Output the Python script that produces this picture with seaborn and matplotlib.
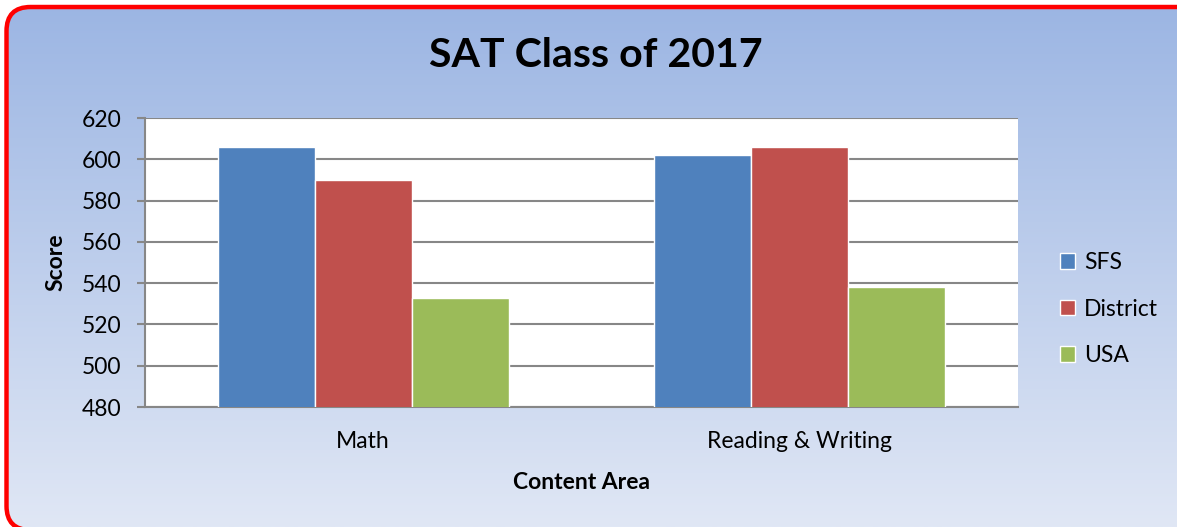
import numpy as np
import pandas as pd
import matplotlib
matplotlib.use("Agg")
import matplotlib.pyplot as plt
from matplotlib.patches import FancyBboxPatch
import seaborn as sns

areas = ["Math", "Reading & Writing"]
groups = ["SFS", "District", "USA"]
sfs = [606, 602]
district = [590, 606]
usa = [533, 538]
colors = ["#4f81bd", "#c0504d", "#9bbb59"]

rows = []
for i, area in enumerate(areas):
    for g, vals in zip(groups, [sfs, district, usa]):
        rows.append({"area": area, "group": g, "score": vals[i]})
df = pd.DataFrame(rows)

sns.set_style("white")
plt.rcParams["font.family"] = ["Lato", "DejaVu Sans"]
plt.rcParams["text.color"] = "black"
plt.rcParams["xtick.color"] = "black"
plt.rcParams["ytick.color"] = "black"
plt.rcParams["axes.labelcolor"] = "black"

W, H = 1177, 527
fig = plt.figure(figsize=(W / 100, H / 100), dpi=100)
fig.patch.set_facecolor("white")

# background gradient inside the rounded red frame (frame in inches)
bg = fig.add_axes([0, 0, 1, 1], zorder=-1)
bg.axis("off")
top = np.array([0x9b, 0xb5, 0xe3]) / 255
bot = np.array([0xe0, 0xe7, 0xf5]) / 255
t = np.linspace(0, 1, 256)[:, None]
grad = (top * (1 - t) + bot * t)[:, None, :]
im = bg.imshow(grad, extent=[0, 1, 0, 1], aspect="auto", origin="upper",
               transform=bg.transAxes)
frame = FancyBboxPatch((0.065, -0.03), 11.95, 5.23,
                       boxstyle="round,pad=0,rounding_size=0.24",
                       transform=fig.dpi_scale_trans,
                       facecolor="none", edgecolor="#ff0000", linewidth=3.2)
bg.add_artist(frame)
im.set_clip_path(frame)

ax = fig.add_axes([145 / W, 1 - 407 / H, 873 / W, 289 / H])
sns.barplot(data=df, x="area", y="score", hue="group", palette=colors,
            width=0.667, saturation=1, ax=ax, zorder=3)
ax.set_facecolor("white")
ax.set_ylim(480, 620)
ax.set_yticks(range(480, 621, 20))
ax.yaxis.grid(True, color="#878787", linewidth=1.5, zorder=0)
ax.set_axisbelow(True)
for s in ["top", "right"]:
    ax.spines[s].set_visible(False)
for s in ["left", "bottom"]:
    ax.spines[s].set_color("#878787")
    ax.spines[s].set_linewidth(1.5)
ax.tick_params(axis="y", direction="out", length=6, width=1.5, color="#878787",
               pad=11, labelsize=16.5, left=True)
ax.tick_params(axis="x", length=0, pad=17, labelsize=16.5)
ax.set_ylabel("")
ax.set_xlabel("Content Area", fontsize=16.5, fontweight="bold", labelpad=15)

fig.text(56 / W, 1 - 262 / H, "Score", rotation=90, fontsize=16.5,
         fontweight="bold", ha="center", va="center")
fig.text(596 / W, 1 - 56 / H, "SAT Class of 2017", fontsize=29.5,
         fontweight="bold", ha="center", va="center")

handles, labels = ax.get_legend_handles_labels()
ax.legend(handles, labels, loc="center left",
          bbox_to_anchor=(1060 / W, 1 - 309 / H),
          bbox_transform=fig.transFigure, frameon=False, fontsize=16.5,
          borderpad=0, borderaxespad=0, handlelength=0.66, handleheight=0.66,
          handletextpad=0.4, labelspacing=1.12)

fig.savefig("out.png", dpi=100)
